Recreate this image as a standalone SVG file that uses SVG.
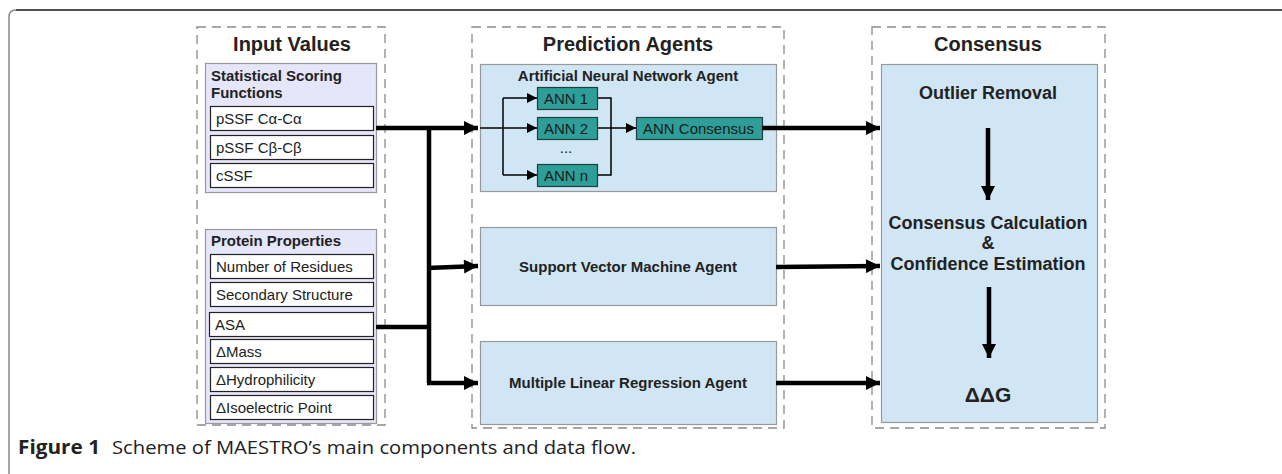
<svg xmlns="http://www.w3.org/2000/svg" width="1282" height="474" viewBox="0 0 1282 474">
  <defs>
    <marker id="arrowThin" viewBox="0 0 10 10" refX="10" refY="5" markerWidth="14" markerHeight="10" markerUnits="userSpaceOnUse" orient="auto">
      <path d="M0,0 L10,5 L0,10 z" fill="#000"/>
    </marker>
    <marker id="arrowThick" viewBox="0 0 10 10" refX="10" refY="5" markerWidth="20" markerHeight="14" markerUnits="userSpaceOnUse" orient="auto">
      <path d="M0,0 L10,5 L0,10 z" fill="#000"/>
    </marker>
  </defs>
  <style>
    .group { fill: none; stroke: #8a8a8a; stroke-width: 1.3; stroke-dasharray: 9 6; }
    .title { font-family: "Liberation Sans", Arial, sans-serif; font-weight: bold; font-size: 20px; fill: #222; text-anchor: middle; }
    .panel { fill: #e6e6fa; stroke: #999; stroke-width: 1.2; }
    .item { fill: #fff; stroke: #222; stroke-width: 1.2; }
    .itxt { font-family: "Liberation Sans", Arial, sans-serif; font-size: 15px; fill: #222; }
    .ptxt { font-family: "Liberation Sans", Arial, sans-serif; font-size: 15px; font-weight: bold; fill: #222; }
    .agent { fill: #d0e6f4; stroke: #999; stroke-width: 1.2; }
    .atxt { font-family: "Liberation Sans", Arial, sans-serif; font-size: 15px; font-weight: bold; fill: #222; text-anchor: middle; }
    .ann { fill: #2e9e98; stroke: #1f3f3d; stroke-width: 1.2; }
    .anntxt { font-family: "Liberation Sans", Arial, sans-serif; font-size: 15px; fill: #1a1a1a; }
    .ctxt { font-family: "Liberation Sans", Arial, sans-serif; font-size: 18px; font-weight: bold; fill: #222; text-anchor: middle; }
    .thick { fill: none; stroke: #000; stroke-width: 4.5; }
    .thin { fill: none; stroke: #000; stroke-width: 1.5; }
    .cap { font-family: "Open Sans", "Liberation Sans", sans-serif; font-size: 19px; fill: #222; }
  </style>

  <!-- page frame -->
  <path d="M9,474 L9,17 Q9,10 16,10 L1282,10" fill="none" stroke="#888" stroke-width="1.5"/>
  <path d="M16,10 L1282,10" fill="none" stroke="#333" stroke-width="1.5"/>

  <!-- column groups -->
  <g id="input-values">
    <rect class="group" x="197" y="27" width="188" height="398"/>
    <text class="title" x="292" y="51">Input Values</text>
  </g>
  <g id="prediction-agents">
    <rect class="group" x="472" y="27" width="312" height="401"/>
    <text class="title" x="628" y="51">Prediction Agents</text>
  </g>
  <g id="consensus-group">
    <rect class="group" x="872" y="27" width="233" height="401"/>
    <text class="title" x="988" y="51">Consensus</text>
  </g>

  <!-- statistical scoring functions -->
  <g id="ssf">
    <rect class="panel" x="205.5" y="63.5" width="171" height="129"/>
    <text class="ptxt" x="211" y="81">Statistical Scoring</text>
    <text class="ptxt" x="211" y="98">Functions</text>
    <rect class="item" x="210.5" y="106.5" width="163" height="24"/>
    <text class="itxt" x="216" y="124">pSSF Cα-Cα</text>
    <rect class="item" x="210.5" y="135.5" width="163" height="24"/>
    <text class="itxt" x="216" y="153">pSSF Cβ-Cβ</text>
    <rect class="item" x="210.5" y="163.5" width="163" height="24"/>
    <text class="itxt" x="216" y="181">cSSF</text>
  </g>

  <!-- protein properties -->
  <g id="protein-properties">
    <rect class="panel" x="205.5" y="229.5" width="171" height="194"/>
    <text class="ptxt" x="211" y="246">Protein Properties</text>
    <rect class="item" x="210.5" y="254.5" width="163" height="24"/>
    <text class="itxt" x="216" y="272">Number of Residues</text>
    <rect class="item" x="210.5" y="282.5" width="163" height="24"/>
    <text class="itxt" x="216" y="300">Secondary Structure</text>
    <rect class="item" x="209.5" y="312.5" width="164" height="24"/>
    <text class="itxt" x="215" y="330">ASA</text>
    <rect class="item" x="210.5" y="339.5" width="163" height="24"/>
    <text class="itxt" x="216" y="357">ΔMass</text>
    <rect class="item" x="210.5" y="367.5" width="163" height="24"/>
    <text class="itxt" x="216" y="385">ΔHydrophilicity</text>
    <rect class="item" x="210.5" y="395.5" width="163" height="24"/>
    <text class="itxt" x="216" y="413">ΔIsoelectric Point</text>
  </g>

  <!-- ANN agent -->
  <g id="ann-agent">
    <rect class="agent" x="480.5" y="64.5" width="296" height="127"/>
    <text class="atxt" x="628" y="81">Artificial Neural Network Agent</text>
  </g>
  <g id="ann-1">
    <rect class="ann" x="537.5" y="87.5" width="60" height="22"/>
    <text class="anntxt" x="544" y="104">ANN 1</text>
  </g>
  <g id="ann-2">
    <rect class="ann" x="537.5" y="117.5" width="60" height="22"/>
    <text class="anntxt" x="544" y="134">ANN 2</text>
  </g>
  <text class="anntxt" x="566" y="153" text-anchor="middle">...</text>
  <g id="ann-n">
    <rect class="ann" x="537.5" y="164.5" width="60" height="22"/>
    <text class="anntxt" x="544" y="181">ANN n</text>
  </g>
  <g id="ann-consensus">
    <rect class="ann" x="636.5" y="117.5" width="126" height="22"/>
    <text class="anntxt" x="643" y="134">ANN Consensus</text>
  </g>

  <!-- other agents -->
  <g id="svm-agent">
    <rect class="agent" x="480.5" y="227.5" width="296" height="78"/>
    <text class="atxt" x="628" y="272">Support Vector Machine Agent</text>
  </g>
  <g id="mlr-agent">
    <rect class="agent" x="480.5" y="341.5" width="296" height="83"/>
    <text class="atxt" x="628" y="388">Multiple Linear Regression Agent</text>
  </g>

  <!-- consensus stage -->
  <g id="consensus-stage">
    <rect class="agent" x="881.5" y="64.5" width="216" height="358"/>
    <text class="ctxt" x="988" y="99">Outlier Removal</text>
    <text class="ctxt" x="988" y="229">Consensus Calculation</text>
    <text class="ctxt" x="988" y="249">&amp;</text>
    <text class="ctxt" x="988" y="270">Confidence Estimation</text>
    <text class="ctxt" x="988" y="402" style="font-size:21px">ΔΔG</text>
  </g>

  <!-- connectors -->
  <g id="connectors">
    <!-- inputs to agents -->
    <path class="thick" d="M376,128 L478,128" marker-end="url(#arrowThick)"/>
    <path class="thick" d="M376,327 L429,327"/>
    <path class="thick" d="M429,126 L429,383"/>
    <path class="thick" d="M427,268 L478,266" marker-end="url(#arrowThick)"/>
    <path class="thick" d="M427,383 L478,383" marker-end="url(#arrowThick)"/>
    <!-- ANN ensemble wiring -->
    <path class="thin" d="M480,128 L503,128"/>
    <path class="thin" d="M503,98 L503,175"/>
    <path class="thin" d="M503,98 L537,98" marker-end="url(#arrowThin)"/>
    <path class="thin" d="M503,128 L537,128" marker-end="url(#arrowThin)"/>
    <path class="thin" d="M503,175 L537,175" marker-end="url(#arrowThin)"/>
    <path class="thin" d="M598,98 L611,98 L611,175 L598,175"/>
    <path class="thin" d="M598,128 L636,128" marker-end="url(#arrowThin)"/>
    <!-- agents to consensus -->
    <path class="thick" d="M762,128 L880,128" marker-end="url(#arrowThick)"/>
    <path class="thick" d="M776,267 L880,266" marker-end="url(#arrowThick)"/>
    <path class="thick" d="M776,383 L880,383" marker-end="url(#arrowThick)"/>
    <!-- consensus steps -->
    <path class="thick" d="M988,128 L988,200" marker-end="url(#arrowThick)"/>
    <path class="thick" d="M989,287 L989,358" marker-end="url(#arrowThick)"/>
  </g>

  <!-- caption -->
  <text class="cap" x="18" y="454"><tspan font-weight="bold" textLength="82" lengthAdjust="spacingAndGlyphs">Figure 1</tspan><tspan x="112" textLength="524" lengthAdjust="spacingAndGlyphs">Scheme of MAESTRO’s main components and data flow.</tspan></text>
</svg>
